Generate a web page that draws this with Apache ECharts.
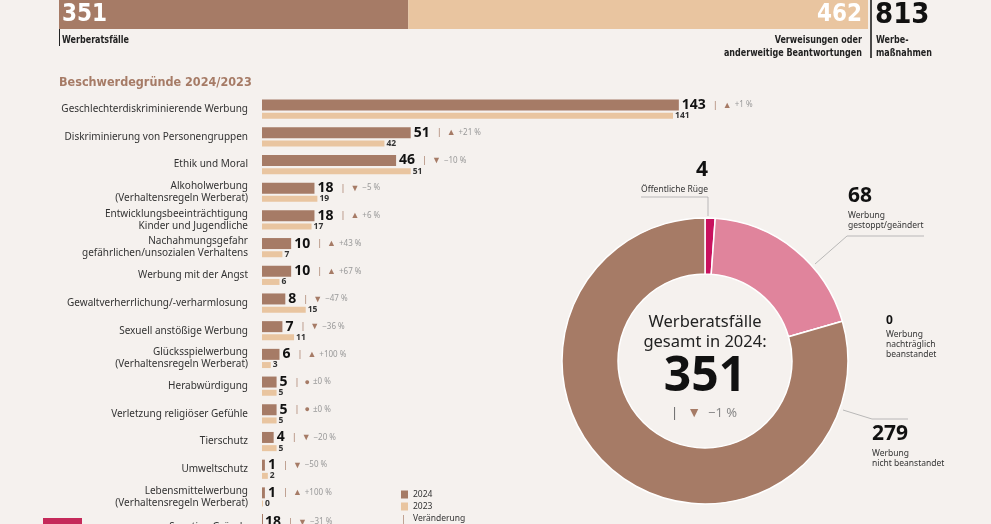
<!DOCTYPE html>
<html><head><meta charset="utf-8">
<script src="https://cdn.jsdelivr.net/npm/echarts@6/dist/echarts.min.js"></script>
<style>html,body{margin:0;padding:0;background:#f5f1ee}#c{width:991px;height:524px}</style>
</head><body><div id="c"></div>
<script>
// ---------- data ----------
const totalNames = ['Werberatsfälle', 'Verweisungen oder\nanderweitige Beantwortungen'];
const totalValues = [351, 462];
const totalAll = 813;
const totalAllName = 'Werbe-\nmaßnahmen';

const chartTitle = 'Beschwerdegründe 2024/2023';
const categories = [
  'Geschlechterdiskriminierende Werbung',
  'Diskriminierung von Personengruppen',
  'Ethik und Moral',
  'Alkoholwerbung\n(Verhaltensregeln Werberat)',
  'Entwicklungsbeeinträchtigung\nKinder und Jugendliche',
  'Nachahmungsgefahr\ngefährlichen/unsozialen Verhaltens',
  'Werbung mit der Angst',
  'Gewaltverherrlichung/-verharmlosung',
  'Sexuell anstößige Werbung',
  'Glücksspielwerbung\n(Verhaltensregeln Werberat)',
  'Herabwürdigung',
  'Verletzung religiöser Gefühle',
  'Tierschutz',
  'Umweltschutz',
  'Lebensmittelwerbung\n(Verhaltensregeln Werberat)'
];
const values2024 = [143, 51, 46, 18, 18, 10, 10, 8, 7, 6, 5, 5, 4, 1, 1];
const values2023 = [141, 42, 51, 19, 17, 7, 6, 15, 11, 3, 5, 5, 5, 2, 0];
const changes = ['+1 %', '+21 %', '−10 %', '−5 %', '+6 %', '+43 %', '+67 %', '−47 %', '−36 %', '+100 %', '±0 %', '±0 %', '−20 %', '−50 %', '+100 %'];
const lastCategory = 'Sonstige Gründe';
const lastValue2024 = 18;
const lastChange = '−31 %';
const legendNames = ['2024', '2023'];
const changeLegend = 'Veränderung';

const outcomeNames = ['Öffentliche Rüge', 'Werbung\ngestoppt/geändert', 'Werbung\nnachträglich\nbeanstandet', 'Werbung\nnicht beanstandet'];
const outcomeValues = [4, 68, 0, 279];
const centerTitle = 'Werberatsfälle\ngesamt in 2024:';
const centerTotal = 351;
const centerChange = '−1 %';

// ---------- style ----------
const BG = '#f5f1ee', BROWN = '#a67b66', BEIGE = '#e9c5a0', PINK = '#e0849c', CRIMSON = '#c8125e';
const F = 'Noto Sans', FC = 'DejaVu Sans Condensed';
const sym = ch => ch.startsWith('+') ? '▲' : (ch.startsWith('±') ? '●' : '▼');

const pieLabelPos = [
  {x: 708, y: 156, align: 'right', verticalAlign: 'top', labelLinePoints: [[708, 216], [708, 197], [641, 197]]},
  {x: 848, y: 182, align: 'left', verticalAlign: 'top', labelLinePoints: [[815, 264], [847, 236], [924, 236]]},
  {x: 886, y: 311, align: 'left', verticalAlign: 'top'},
  {x: 872, y: 420, align: 'left', verticalAlign: 'top', labelLinePoints: [[843, 410], [872, 419], [908, 419]]}
];

const deltaRich = {
  s: {fontFamily: F, fontSize: 9, color: BROWN, padding: [0, 5, 0, 7], verticalAlign: 'middle'},
  t: {fontFamily: F, fontSize: 9, color: BROWN, padding: [0, 3, 0, 0], verticalAlign: 'middle'},
  p: {fontFamily: F, fontSize: 8, color: '#999', verticalAlign: 'middle'}
};

const chart = echarts.init(document.getElementById('c'));
chart.setOption({
  backgroundColor: BG,
  animation: false,
  legend: {
    data: legendNames, orient: 'vertical', left: 396, top: 485,
    itemWidth: 7, itemHeight: 8, itemGap: 3, icon: 'rect',
    textStyle: {fontFamily: F, fontSize: 8.5, color: '#333'}
  },
  grid: [
    {left: 59, top: 0, width: 809, height: 29},
    {left: 262, top: 95.3, width: 583, height: 415.5}
  ],
  xAxis: [
    {gridIndex: 0, type: 'value', min: 0, max: totalAll, show: false},
    {gridIndex: 1, type: 'value', min: 0, max: 200, show: false}
  ],
  yAxis: [
    {gridIndex: 0, type: 'category', data: [''], show: false},
    {gridIndex: 1, type: 'category', data: categories, inverse: true,
     axisLine: {show: false}, axisTick: {show: false}, splitLine: {show: false},
     axisLabel: {fontFamily: F, fontSize: 10, color: '#333', margin: 14, lineHeight: 12}}
  ],
  series: [
    {type: 'bar', name: totalNames[0], stack: 'tot', xAxisIndex: 0, yAxisIndex: 0, barWidth: '100%',
     data: [totalValues[0]], itemStyle: {color: BROWN},
     label: {show: true, position: 'insideLeft', distance: 3, color: '#fff', fontFamily: FC, fontWeight: 'bold', fontSize: 24}},
    {type: 'bar', name: totalNames[1], stack: 'tot', xAxisIndex: 0, yAxisIndex: 0, barWidth: '100%',
     data: [totalValues[1]], itemStyle: {color: BEIGE},
     label: {show: true, position: 'insideRight', distance: 6, color: '#fff', fontFamily: FC, fontWeight: 'bold', fontSize: 24}},
    {type: 'bar', name: legendNames[0], xAxisIndex: 1, yAxisIndex: 1, barWidth: 11, barGap: '20%',
     data: values2024, itemStyle: {color: BROWN},
     label: {show: true, position: 'right', distance: 3,
       formatter: p => `{v|${p.value}}{s||}{t|${sym(changes[p.dataIndex])}}{p|${changes[p.dataIndex]}}`,
       rich: Object.assign({v: {fontFamily: F, fontWeight: 'bold', fontSize: 14, color: '#111', verticalAlign: 'middle'}}, deltaRich)}},
    {type: 'bar', name: legendNames[1], xAxisIndex: 1, yAxisIndex: 1, barWidth: 6, barGap: '20%', barMinHeight: 1,
     data: values2023, itemStyle: {color: BEIGE},
     label: {show: true, position: 'right', distance: 2, fontFamily: F, fontWeight: 'bold', fontSize: 8.5, color: '#333'}},
    {type: 'pie', center: [705, 361], radius: [87, 143], startAngle: 90, avoidLabelOverlap: false,
     itemStyle: {borderColor: '#ffffff', borderWidth: 1.5},
     data: outcomeNames.map((n, i) => ({name: n, value: outcomeValues[i],
       itemStyle: {color: [CRIMSON, PINK, '#cccccc', BROWN][i]},
       labelLine: {show: i !== 2}})),
     label: {show: true, position: 'outside', color: '#333',
       formatter: p => p.value === 0 ? `{m|${p.value}}\n{t|${p.name}}` : `{n|${p.value}}\n{t|${p.name}}`,
       rich: {
         n: {fontFamily: F, fontWeight: 'bold', fontSize: 21, color: '#111', lineHeight: 29},
         m: {fontFamily: F, fontWeight: 'bold', fontSize: 12, color: '#111', lineHeight: 19},
         t: {fontFamily: F, fontSize: 8.5, color: '#333', lineHeight: 10}
       }},
     labelLine: {show: true, lineStyle: {color: '#aaa', width: 0.8}},
     labelLayout: p => pieLabelPos[p.dataIndex]
    }
  ],
  graphic: [
    {type: 'text', x: 62, y: 40, scaleX: 0.85, style: {text: totalNames[0], font: `bold 10.5px "${FC}"`, fill: '#222', textVerticalAlign: 'middle'}},
    {type: 'text', x: 862, y: 46.5, scaleX: 0.85, style: {text: totalNames[1], font: `bold 10.5px "${FC}"`, fill: '#222', textAlign: 'right', textVerticalAlign: 'middle', lineHeight: 13}},
    {type: 'text', x: 876, y: 46.5, scaleX: 0.85, style: {text: totalAllName, font: `bold 10.5px "${FC}"`, fill: '#222', textVerticalAlign: 'middle', lineHeight: 13}},
    {type: 'text', x: 875, y: 15, style: {text: String(totalAll), font: `bold 29px "${FC}"`, fill: '#111', textVerticalAlign: 'middle'}},
    {type: 'line', shape: {x1: 59.5, y1: 29, x2: 59.5, y2: 46}, style: {stroke: '#222', lineWidth: 1}},
    {type: 'line', shape: {x1: 871, y1: 0, x2: 871, y2: 58}, style: {stroke: '#111', lineWidth: 1.5}},
    {type: 'text', x: 59, y: 83, style: {text: chartTitle, font: `bold 12.5px "${FC}"`, fill: BROWN, textVerticalAlign: 'middle'}},
    {type: 'text', x: 705, y: 332, style: {text: centerTitle, font: `16.5px "${F}"`, fill: '#222', textAlign: 'center', textVerticalAlign: 'middle', lineHeight: 20}},
    {type: 'text', x: 705, y: 377, style: {text: String(centerTotal), font: `bold 48px "${F}"`, fill: '#111', textAlign: 'center', textVerticalAlign: 'middle'}},
    {type: 'text', x: 704, y: 413, style: {
      text: `{s||}{t|▼}{p|${centerChange}}`, textAlign: 'center', textVerticalAlign: 'middle',
      rich: {s: {font: `13px "${F}"`, fill: '#666', padding: [0, 9, 0, 0]}, t: {font: `14px "${F}"`, fill: BROWN, padding: [0, 7, 0, 0]}, p: {font: `13px "${F}"`, fill: '#888'}}}},
    {type: 'text', x: 401, y: 519, style: {text: '|', font: `9px "${F}"`, fill: BROWN, textVerticalAlign: 'middle'}},
    {type: 'text', x: 413, y: 519, style: {text: changeLegend, font: `8.5px "${F}"`, fill: '#333', textVerticalAlign: 'middle'}},
    {type: 'rect', shape: {x: 43, y: 518, width: 39, height: 10}, style: {fill: '#c52a5a'}},
    {type: 'text', x: 248, y: 527, style: {text: lastCategory, font: `10px "${F}"`, fill: '#333', textAlign: 'right', textVerticalAlign: 'middle'}},
    {type: 'line', shape: {x1: 262.5, y1: 514, x2: 262.5, y2: 524}, style: {stroke: BROWN, lineWidth: 1}},
    {type: 'text', x: 265, y: 522, style: {
      text: `{v|${lastValue2024}}{s||}{t|${sym(lastChange)}}{p|${lastChange}}`, textVerticalAlign: 'middle',
      rich: {v: {font: `bold 14px "${F}"`, fill: '#111'}, s: {font: `9px "${F}"`, fill: BROWN, padding: [0, 5, 0, 7]}, t: {font: `9px "${F}"`, fill: BROWN, padding: [0, 3, 0, 0]}, p: {font: `8px "${F}"`, fill: '#999'}}}}
  ]
});
</script></body></html>
